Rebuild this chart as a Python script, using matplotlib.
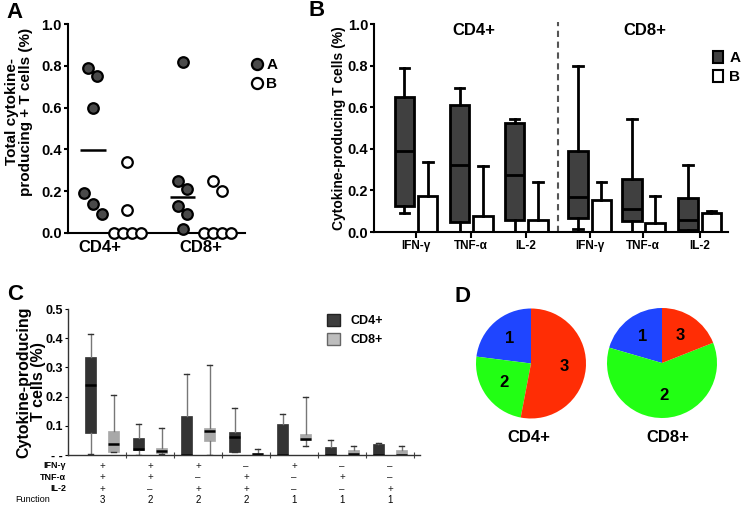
import numpy as np
import matplotlib
matplotlib.use("Agg")
import matplotlib.pyplot as plt
from matplotlib.lines import Line2D
from matplotlib.patches import Patch
from matplotlib.transforms import blended_transform_factory

plt.rcParams['font.family'] = ['Liberation Sans', 'DejaVu Sans']
plt.rcParams['font.weight'] = 'bold'
plt.rcParams['axes.labelweight'] = 'bold'

# ---------------- data ----------------
# panel A: total cytokine-producing T cells, one point per subject
groups_a = ["CD4+", "CD8+"]
total_a = [[0.79, 0.75, 0.60, 0.19, 0.14, 0.09],
           [0.82, 0.25, 0.21, 0.13, 0.09, 0.02]]
total_b = [[0.34, 0.11, 0.0, 0.0, 0.0, 0.0],
           [0.25, 0.20, 0.0, 0.0, 0.0, 0.0]]

# panel B: box stats (whislo, q1, med, q3, whishi)
cytokines = ["IFN-γ", "TNF-α", "IL-2"]
box_a_cd4 = [[0.09, 0.125, 0.39, 0.65, 0.79],
             [0.0, 0.05, 0.32, 0.61, 0.69],
             [0.0, 0.06, 0.275, 0.525, 0.545]]
box_a_cd8 = [[0.015, 0.065, 0.17, 0.39, 0.80],
             [0.0, 0.053, 0.112, 0.254, 0.543],
             [0.0, 0.011, 0.056, 0.164, 0.321]]
box_b_cd4 = [[0.0, 0.0, 0.0, 0.172, 0.337],
             [0.0, 0.0, 0.0, 0.075, 0.318],
             [0.0, 0.0, 0.0, 0.059, 0.238]]
box_b_cd8 = [[0.0, 0.0, 0.0, 0.152, 0.238],
             [0.0, 0.0, 0.0, 0.043, 0.173],
             [0.0, 0.0, 0.0, 0.091, 0.101]]

# panel C: functional combinations
ifn = ["+", "+", "+", "-", "+", "-", "-"]
tnf = ["+", "+", "-", "+", "-", "+", "-"]
il2 = ["+", "-", "+", "+", "-", "-", "+"]
n_function = ["3", "2", "2", "2", "1", "1", "1"]
c_cd4 = [[0.002, 0.075, 0.239, 0.337, 0.414],
         [0.0, 0.016, 0.022, 0.059, 0.105],
         [0.0, 0.0, 0.0, 0.133, 0.277],
         [0.011, 0.011, 0.060, 0.078, 0.161],
         [0.0, 0.0, 0.0, 0.106, 0.140],
         [0.0, 0.0, 0.0, 0.029, 0.052],
         [0.0, 0.0, 0.0, 0.039, 0.040]]
c_cd8 = [[0.011, 0.011, 0.039, 0.083, 0.206],
         [0.002, 0.007, 0.014, 0.025, 0.091],
         [0.0, 0.049, 0.082, 0.092, 0.309],
         [0.0, 0.0, 0.003, 0.008, 0.020],
         [0.031, 0.051, 0.054, 0.071, 0.199],
         [0.0, 0.0, 0.003, 0.016, 0.031],
         [0.0, 0.0, 0.0, 0.017, 0.031]]

# panel D: share of 1/2/3 functions
pie_labels = ["1", "2", "3"]
pie_cd4 = [0.23, 0.24, 0.53]
pie_cd8 = [0.205, 0.605, 0.19]
pie_colors = ["#1f45ff", "#22ff14", "#ff2d05"]

# ---------------- layout helpers ----------------
W, H = 742, 505


def rect(left, top, right, bottom):
    return [left / W, 1 - bottom / H, (right - left) / W, (bottom - top) / H]


def swarm(vals, center, step=0.09, gap=0.06):
    order = sorted(vals, reverse=True)
    clusters = [[order[0]]]
    for v in order[1:]:
        if clusters[-1][-1] - v < gap:
            clusters[-1].append(v)
        else:
            clusters.append([v])
    xs, ys = [], []
    for cl in clusters:
        n = len(cl)
        for k, v in enumerate(cl):
            xs.append(center + (k - (n - 1) / 2) * step)
            ys.append(v)
    return xs, ys


def stats(rows):
    return [dict(whislo=r[0], q1=r[1], med=r[2], q3=r[3], whishi=r[4]) for r in rows]


fig = plt.figure(figsize=(W / 100, H / 100), dpi=100)

# ---------------- panel A ----------------
axA = fig.add_axes(rect(68, 24, 245, 233))
off_a = [-0.07, -0.18]
off_b = [0.27, 0.16]
for i in range(2):
    x, y = swarm(total_a[i], i + 1 + off_a[i])
    axA.scatter(x, y, s=58, facecolor='#4a4a4a', edgecolor='black', linewidths=1.6,
                clip_on=False, zorder=3)
    axA.hlines(np.median(total_a[i]), i + 1 + off_a[i] - 0.125, i + 1 + off_a[i] + 0.125,
               color='black', lw=1.8)
    x, y = swarm(total_b[i], i + 1 + off_b[i])
    axA.scatter(x, y, s=58, facecolor='white', edgecolor='black', linewidths=1.6,
                clip_on=False, zorder=3)
axA.set_xlim(0.683, 2.436)
axA.set_ylim(0, 1.0)
axA.set_yticks(np.arange(0, 1.01, 0.2))
axA.set_yticklabels(["%.1f" % v for v in np.arange(0, 1.01, 0.2)], fontsize=10.5)
axA.set_xticks([1, 2])
axA.set_xticklabels(groups_a, fontsize=12)
axA.tick_params(axis='x', length=0, pad=5)
axA.tick_params(axis='y', length=3, width=1.5, pad=1.5)
for s in ['top', 'right']:
    axA.spines[s].set_visible(False)
for s in ['left', 'bottom']:
    axA.spines[s].set_linewidth(1.5)
axA.set_ylabel("Total cytokine-\nproducing + T cells (%)", fontsize=11, linespacing=0.95)
axA.yaxis.set_label_coords(-0.2, 0.58)
hA = [Line2D([], [], ls='', marker='o', ms=8, mfc='#4a4a4a', mec='black', mew=1.6),
      Line2D([], [], ls='', marker='o', ms=8, mfc='white', mec='black', mew=1.6)]
axA.legend(hA, ["A", "B"], loc='upper left', bbox_to_anchor=(1.035, 0.835), frameon=False,
           fontsize=11, handlelength=0.7, handletextpad=0.3, labelspacing=0.3,
           borderpad=0, borderaxespad=0)

# ---------------- panel B ----------------
axB = fig.add_axes(rect(374, 24, 728, 232))
pos_b = [0, 1, 2, 3.16, 4.13, 5.16]
common = dict(showfliers=False, patch_artist=True, widths=0.36, capwidths=0.18,
              manage_ticks=False,
              whiskerprops=dict(color='black', lw=2),
              capprops=dict(color='black', lw=2),
              medianprops=dict(color='black', lw=2))
axB.bxp(stats(box_a_cd4 + box_a_cd8), positions=[p - 0.21 for p in pos_b],
        boxprops=dict(facecolor='#404040', edgecolor='black', lw=2), **common)
axB.bxp(stats(box_b_cd4 + box_b_cd8), positions=[p + 0.21 for p in pos_b],
        boxprops=dict(facecolor='white', edgecolor='black', lw=2), **common)
axB.axvline(2.58, ymin=0, ymax=1.01, ls=(0, (3, 2.2)), color='#555555', lw=1.5, clip_on=False)
axB.set_xlim(-0.764, 5.67)
axB.set_ylim(0, 1.0)
axB.set_yticks(np.arange(0, 1.01, 0.2))
axB.set_yticklabels(["%.1f" % v for v in np.arange(0, 1.01, 0.2)], fontsize=10.5)
axB.set_xticks(pos_b)
axB.set_xticklabels(cytokines * 2, fontsize=8.5)
axB.tick_params(axis='x', length=4, width=1.5, pad=1.5)
axB.tick_params(axis='y', length=3, width=1.5, pad=1.2)
for s in ['top', 'right']:
    axB.spines[s].set_visible(False)
for s in ['left', 'bottom']:
    axB.spines[s].set_linewidth(1.5)
axB.set_ylabel("Cytokine-producing T cells (%)", fontsize=10)
axB.yaxis.set_label_coords(-0.078, 0.5)
axB.text(np.mean(pos_b[:3]) + 0.05, 0.97, "CD4+", ha='center', va='center', fontsize=12)
axB.text(np.mean(pos_b[3:]), 0.97, "CD8+", ha='center', va='center', fontsize=12)
hB = [Patch(facecolor='#404040', edgecolor='black', lw=1.5),
      Patch(facecolor='white', edgecolor='black', lw=1.5)]
axB.legend(hB, ["A", "B"], loc='upper left', bbox_to_anchor=(0.958, 0.87), frameon=False,
           fontsize=11, handlelength=0.65, handleheight=0.85, handletextpad=0.4,
           labelspacing=0.3, borderpad=0, borderaxespad=0)

# ---------------- panel C ----------------
axC = fig.add_axes(rect(68, 309, 420, 455))
pos_c = np.arange(len(n_function))
ccommon = dict(showfliers=False, patch_artist=True, widths=0.23, capwidths=0.12,
               manage_ticks=False,
               whiskerprops=dict(color='#777777', lw=1.0),
               capprops=dict(color='#333333', lw=1.0),
               medianprops=dict(color='black', lw=1.8))
axC.bxp(stats(c_cd4), positions=pos_c - 0.24,
        boxprops=dict(facecolor='#333333', edgecolor='#333333', lw=0.5), **ccommon)
axC.bxp(stats(c_cd8), positions=pos_c + 0.24,
        boxprops=dict(facecolor='#a8a8a8', edgecolor='#a8a8a8', lw=0.5), **ccommon)
axC.set_xlim(-0.71, 6.625)
axC.set_ylim(0, 0.5)
axC.set_yticks(np.arange(0, 0.51, 0.1))
axC.set_yticklabels(["- -"] + ["%.1f" % v for v in np.arange(0.1, 0.51, 0.1)], fontsize=9)
axC.set_xticks([])
axC.set_xticks(pos_c + 0.5, minor=True)
axC.tick_params(axis='x', which='minor', direction='inout', length=5, width=0.8, color='#444444')
axC.tick_params(axis='y', length=2, width=0.8, pad=1.5)
for s in ['top', 'right']:
    axC.spines[s].set_visible(False)
for s in ['left', 'bottom']:
    axC.spines[s].set_linewidth(1.0)
    axC.spines[s].set_color('#333333')
axC.set_ylabel("Cytokine-producing\nT cells (%)", fontsize=11.5, linespacing=1.0)
axC.yaxis.set_label_coords(-0.062, 0.5)
hC = [Patch(facecolor='#3d3d3d', edgecolor='#222222', lw=1),
      Patch(facecolor='#bdbdbd', edgecolor='#666666', lw=1)]
axC.legend(hC, ["CD4+", "CD8+"], loc='upper left', bbox_to_anchor=(0.736, 0.965),
           frameon=False, prop=dict(size=9, weight='bold'), handlelength=1.05,
           handleheight=1.05, handletextpad=0.8, labelspacing=0.5,
           borderpad=0, borderaxespad=0)

tr = blended_transform_factory(axC.transData, axC.transAxes)
row_y = [-0.075, -0.153, -0.232, -0.308]
rows = [("IFN-γ", ifn), ("TNF-α", tnf), ("IL-2", il2)]
for (name, signs), yy in zip(rows, row_y):
    axC.text(-0.006, yy, name, transform=axC.transAxes, ha='right', va='center',
             fontsize=6.5)
    for xx, sg in zip(pos_c, signs):
        axC.text(xx, yy, "+" if sg == "+" else "–", transform=tr, ha='center', va='center',
                 fontsize=7, fontweight='normal', color='#222222')
axC.text(-0.05, row_y[3], "Function", transform=axC.transAxes, ha='right', va='center',
         fontsize=6.5, fontweight='normal')
for xx, f in zip(pos_c, n_function):
    axC.text(xx, row_y[3], f, transform=tr, ha='center', va='center', fontsize=7,
             fontweight='normal')

# ---------------- panel D ----------------
for cx, cy, fr, name, lx in [(531, 363.5, pie_cd4, "CD4+", 529), (662, 363, pie_cd8, "CD8+", 668)]:
    axP = fig.add_axes(rect(cx - 55, cy - 55, cx + 55, cy + 55))
    axP.pie(fr, colors=pie_colors, startangle=90, counterclock=True, labels=pie_labels,
            labeldistance=0.6, wedgeprops=dict(linewidth=0),
            textprops=dict(fontsize=12, fontweight='bold', ha='center', va='center'))
    axP.set_xlim(-1, 1)
    axP.set_ylim(-1, 1)
    axP.axis('off')
    fig.text(lx / W, 1 - 437 / H, name, ha='center', va='center', fontsize=12)

# panel letters
for lab, x, y in [("A", 15, 12), ("B", 317, 11), ("C", 15, 295), ("D", 462, 297)]:
    fig.text(x / W, 1 - y / H, lab, ha='center', va='center', fontsize=16, fontweight='bold')

fig.savefig("out.png", dpi=100)
